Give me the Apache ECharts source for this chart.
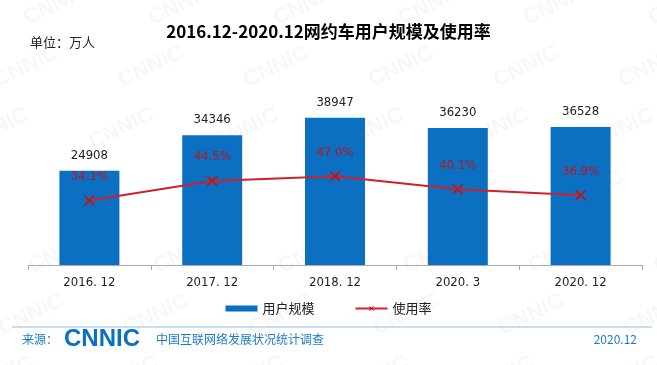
<!DOCTYPE html>
<html><head><meta charset="utf-8">
<script src="https://cdn.jsdelivr.net/npm/echarts@6/dist/echarts.min.js"></script>
<style>html,body{margin:0;padding:0;background:#fff}#c{width:657px;height:365px}</style>
</head><body><div id="c"></div>
<script>
const categories = ['2016. 12','2017. 12','2018. 12','2020. 3','2020. 12'];
const users = [24908, 34346, 38947, 36230, 36528];
const rates = [34.1, 44.5, 47.0, 40.1, 36.9];

const FONT = '"Noto Sans CJK SC","Noto Sans",sans-serif';
const NUMFONT = '"DejaVu Sans Condensed","Liberation Sans Narrow","Noto Sans",sans-serif';
const xMark = 'path://M0,1.2L1.2,0L5,3.8L8.8,0L10,1.2L6.2,5L10,8.8L8.8,10L5,6.2L1.2,10L0,8.8L3.8,5Z';

const wm = [];
for (let r = -1; r < 8; r++) {
  for (let c = -1; c < 8; c++) {
    wm.push({type:'text', x: c*125 - r*30 + 20, y: r*62 + 10, rotation: Math.PI/7,
      style:{text:'CNNIC', fill:'rgba(0,0,0,0.03)', font:'bold 22px "Liberation Sans",sans-serif'}, silent:true, z:-10});
  }
}

const chart = echarts.init(document.getElementById('c'));
chart.setOption({
  animation:false,
  backgroundColor:'#fff',
  textStyle:{fontFamily:FONT},
  title:{text:'2016.12-2020.12网约车用户规模及使用率', left:'center', top:18,
    textStyle:{fontSize:17, fontWeight:'bold', color:'#000', fontFamily:FONT}},
  grid:{left:28, right:15, top:76, bottom:100},
  legend:{bottom:45, left:'center', itemGap:40, textStyle:{fontSize:13, color:'#222'},
    data:[{name:'用户规模', icon:'rect', itemStyle:{color:'#0b6fc2'}}, {name:'使用率'}],
    itemWidth:32, itemHeight:6},
  xAxis:{type:'category', data:categories,
    axisLine:{lineStyle:{color:'#aaa', width:1}},
    axisTick:{show:true, length:5, lineStyle:{color:'#aaa'}},
    axisLabel:{color:'#222', fontSize:13, margin:11, fontFamily:NUMFONT}},
  yAxis:[
    {type:'value', min:0, max:50000, show:false},
    {type:'value', min:0, max:100, show:false}
  ],
  series:[
    {name:'用户规模', type:'bar', data:users, barWidth:60,
      itemStyle:{color:'#0b6fc2'},
      label:{show:true, position:'top', distance:9, color:'#222', fontSize:13, fontFamily:NUMFONT}},
    {name:'使用率', type:'line', yAxisIndex:1, data:rates,
      symbol:xMark, symbolSize:11,
      lineStyle:{color:'#d0202a', width:2},
      itemStyle:{color:'#c0141e'},
      label:{show:true, position:'top', distance:12, color:'#c0141e', fontSize:13, fontFamily:NUMFONT,
        formatter:p=>p.value.toFixed(1)+'%'}}
  ],
  graphic:[
    ...wm,
    {type:'text', left:30, top:36, style:{text:'单位：万人', fill:'#222', font:'13px '+FONT}},
    {type:'line', shape:{x1:12, y1:327, x2:652, y2:327}, style:{stroke:'#b9d3ec', lineWidth:1.5}},
    {type:'text', left:22, top:333, style:{text:'来源：', fill:'#1b7bd0', font:'12px '+FONT}},
    {type:'text', left:64, top:327, style:{text:'CNNIC', fill:'#0b6fc2', font:'bold 24px "Liberation Sans",sans-serif'}},
    {type:'text', left:156, top:333, style:{text:'中国互联网络发展状况统计调查', fill:'#1b7bd0', font:'12px '+FONT}},
    {type:'text', right:20, top:333, style:{text:'2020.12', fill:'#1b7bd0', font:'12px '+FONT}}
  ]
});
</script></body></html>
